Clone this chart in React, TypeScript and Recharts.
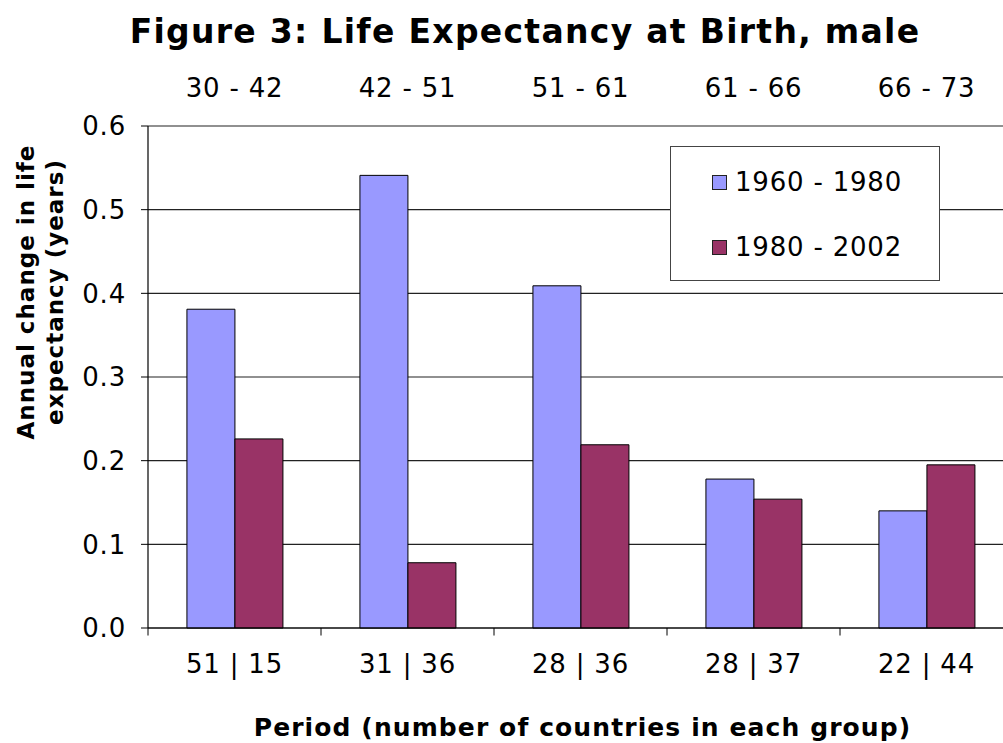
import React from "react";
import {
  BarChart,
  Bar,
  XAxis,
  YAxis,
  CartesianGrid,
  Legend,
  ReferenceLine,
} from "recharts";

const groupCounts = ["51 | 15", "31 | 36", "28 | 36", "28 | 37", "22 | 44"];
const lifeRanges = ["30 - 42", "42 - 51", "51 - 61", "61 - 66", "66 - 73"];
const change1960to1980 = [0.381, 0.541, 0.409, 0.178, 0.14];
const change1980to2002 = [0.226, 0.078, 0.219, 0.154, 0.195];
const yTicks = [0, 0.1, 0.2, 0.3, 0.4, 0.5, 0.6];
const groupBoundaries = [0, 1, 2, 3, 4, 5];

const data = groupCounts.map((g, i) => ({
  group: g,
  range: lifeRanges[i],
  a: change1960to1980[i],
  b: change1980to2002[i],
}));

const FONT = "'DejaVu Sans', Verdana, sans-serif";
const tickStyle = { fill: "#000", fontSize: 26, fontFamily: FONT, letterSpacing: 0.8 };

const LegendBox = (props: any) => {
  const payload = props.payload || [];
  return (
    <div
      style={{
        width: 270,
        height: 135,
        boxSizing: "border-box",
        border: "1px solid #444",
        background: "#fff",
        fontFamily: FONT,
        fontSize: 26,
        letterSpacing: 0.8,
        color: "#000",
        position: "relative",
      }}
    >
      {payload.map((p: any, i: number) => (
        <div
          key={i}
          style={{
            position: "absolute",
            left: 41,
            top: 20 + i * 65,
            display: "flex",
            alignItems: "center",
            whiteSpace: "nowrap",
          }}
        >
          <span
            style={{
              display: "inline-block",
              width: 13,
              height: 13,
              background: p.color,
              border: "1px solid #222",
              marginRight: 8,
            }}
          />
          <span>{p.value}</span>
        </div>
      ))}
    </div>
  );
};

export default function App() {
  return (
    <div
      style={{
        position: "absolute",
        left: 0,
        top: 0,
        width: 1003,
        height: 743,
        overflow: "hidden",
        background: "#fff",
        fontFamily: FONT,
      }}
    >
      <div
        style={{
          position: "absolute",
          left: 0,
          top: 11,
          width: 1050,
          textAlign: "center",
          fontSize: 33,
          letterSpacing: 1.3,
          fontWeight: "bold",
          lineHeight: "42px",
          whiteSpace: "nowrap",
        }}
      >
        Figure 3: Life Expectancy at Birth, male
      </div>
      <div
        style={{
          position: "absolute",
          left: 42 - 200,
          top: 292 - 30,
          width: 400,
          height: 60,
          transform: "rotate(-90deg)",
          textAlign: "center",
          fontSize: 23,
          letterSpacing: 1,
          fontWeight: "bold",
          lineHeight: "29px",
        }}
      >
        Annual change in life
        <br />
        expectancy (years)
      </div>
      <div
        style={{
          position: "absolute",
          left: 0,
          top: 712,
          width: 1165,
          textAlign: "center",
          fontSize: 25,
          letterSpacing: 1.1,
          fontWeight: "bold",
          lineHeight: "32px",
          whiteSpace: "nowrap",
        }}
      >
        Period (number of countries in each group)
      </div>
      <div style={{ position: "absolute", left: 0, top: 0 }}>
        <BarChart
          width={1020}
          height={743}
          data={data}
          margin={{ top: 76, right: 7, bottom: 55, left: 0 }}
          barCategoryGap="22.5%"
          barGap={0}
        >
          <CartesianGrid vertical={false} stroke="#222" strokeWidth={1.2} />
          <XAxis
            dataKey="group"
            height={60}
            axisLine={{ stroke: "#000", strokeWidth: 1.2 }}
            tickLine={false}
            tickSize={0}
            tickMargin={27}
            tick={tickStyle}
            interval={0}
          />
          <XAxis
            xAxisId="top"
            dataKey="range"
            orientation="top"
            height={50}
            axisLine={false}
            tickLine={false}
            tickSize={0}
            tickMargin={29}
            tick={tickStyle}
            interval={0}
          />
          <XAxis
            xAxisId="bnd"
            dataKey="a"
            type="number"
            domain={[0, 5]}
            allowDataOverflow={true}
            hide
          />
          <YAxis
            width={148}
            domain={[0, 0.6]}
            ticks={yTicks}
            interval={0}
            tickFormatter={(v: number) => v.toFixed(1)}
            axisLine={{ stroke: "#000", strokeWidth: 1.2 }}
            tickLine={{ stroke: "#000" }}
            tickSize={7}
            tickMargin={15}
            tick={tickStyle}
          />
          {groupBoundaries.map((b) => (
            <ReferenceLine
              key={b}
              xAxisId="bnd"
              segment={[
                { x: b, y: 0 },
                { x: b, y: -0.009 },
              ]}
              stroke="#000"
              ifOverflow="visible"
            />
          ))}
          <Legend
            layout="vertical"
            align="center"
            verticalAlign="middle"
            content={<LegendBox />}
            wrapperStyle={{ position: "absolute", left: 670, top: 146, width: 270, height: 135 }}
          />
          <Bar
            dataKey="a"
            name="1960 - 1980"
            fill="#9999FF"
            stroke="#000"
            strokeWidth={1}
            isAnimationActive={false}
          />
          <Bar
            dataKey="b"
            name="1980 - 2002"
            fill="#993366"
            stroke="#000"
            strokeWidth={1}
            isAnimationActive={false}
          />
        </BarChart>
      </div>
    </div>
  );
}
